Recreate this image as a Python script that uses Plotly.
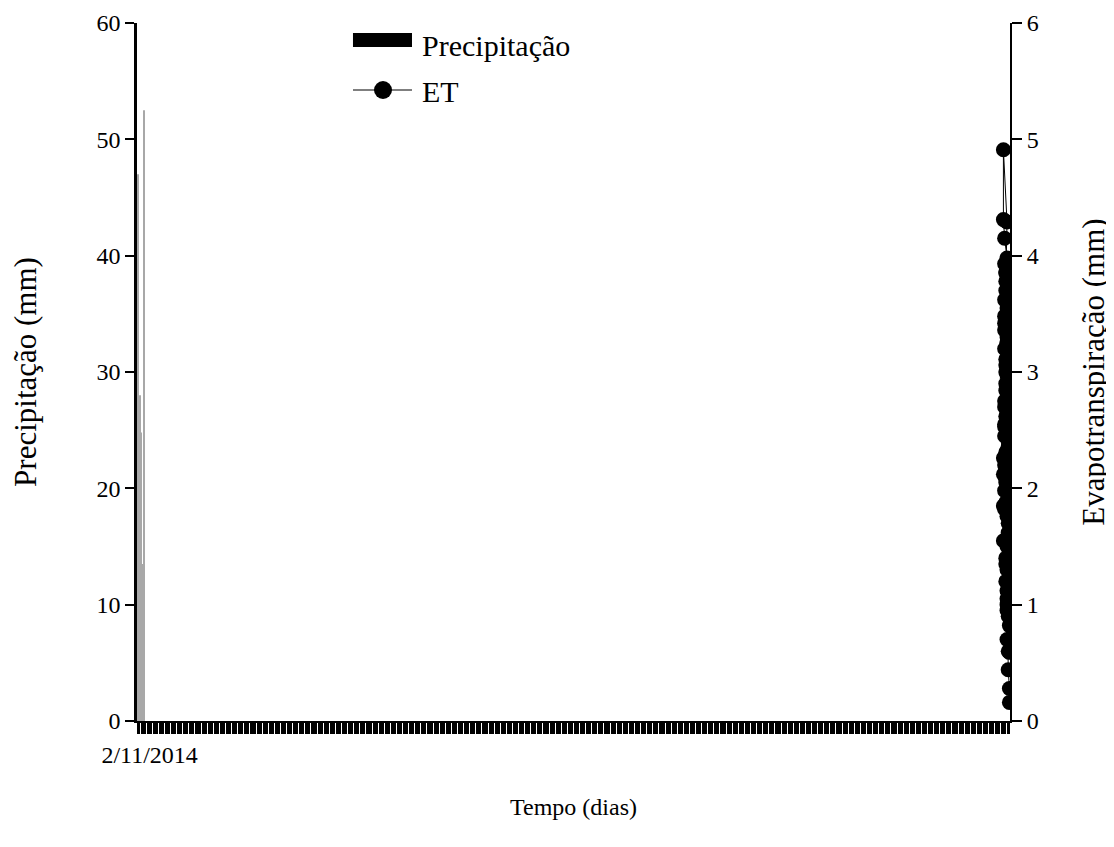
import plotly.graph_objects as go

# ---- data ----
n_days = 730
day_index = list(range(n_days))
first_label = ["2/11/2014"]

precip_days = [0, 1, 2, 3, 4, 5]
precip_values = [47.0, 18.0, 28.0, 24.8, 13.5, 52.5]

et_values = [2.60, 1.40, 3.10, 2.20, 1.00, 2.90, 1.75, 3.40, 2.45, 0.90, 2.05, 3.65,
             1.60, 2.70, 1.30, 3.00, 2.35, 1.85, 3.25, 0.60, 2.15, 2.55, 1.15, 3.85,
             0.70, 1.82, 2.93, 1.20, 3.55, 2.12, 0.82, 2.84, 1.50, 3.20, 2.40, 1.05,
             3.70, 2.26, 1.62, 2.75, 0.95, 3.06, 1.93, 2.58, 1.35, 3.42, 2.03, 1.76,
             3.93, 2.31, 1.28, 2.66, 1.55, 3.15, 2.22, 1.12, 3.62, 2.49, 1.88, 2.97,
             1.42, 3.36, 2.08, 1.70, 3.98, 4.15, 4.31, 4.91, 4.29, 3.78, 2.80, 1.98,
             3.30, 2.17, 0.59, 2.71, 3.48, 2.44, 3.11, 2.88, 3.02, 3.86, 2.53, 2.35,
             3.25, 2.62, 0.44, 0.28, 0.16]
et_days = [727, 726, 728, 725, 727, 726, 729, 727, 725, 728, 726, 727,
           729, 725, 727, 726, 728, 724, 727, 728, 726, 725, 729, 726,
           727, 725, 728, 726, 727, 724, 729, 726, 727, 725, 728, 727,
           726, 724, 728, 725, 727, 726, 729, 727, 726, 725, 728, 727,
           725, 726, 729, 727, 724, 728, 726, 727, 725, 728, 726, 727,
           729, 725, 726, 728, 727, 725, 724, 724, 727, 726, 728, 725,
           727, 726, 729, 728, 725, 727, 726, 728, 727, 726, 725, 728,
           727, 726, 728, 729, 729]

legend_names = ["Precipitação", "ET"]

serif = "Liberation Serif"
tick_size = 24
title_size = 24
ytitle_size = 31
legend_size = 30

fig = go.Figure()
fig.add_trace(go.Bar(x=precip_days, y=precip_values, name=legend_names[0],
                     marker=dict(color="#a8a8a8", line=dict(width=0)),
                     showlegend=False))
fig.add_trace(go.Scatter(x=et_days, y=et_values, name=legend_names[1], yaxis="y2",
                         mode="lines+markers",
                         line=dict(color="black", width=1),
                         marker=dict(color="black", size=15),
                         showlegend=False))

# hand-made legend (wide bar swatch + line/marker swatch) in paper coordinates
sw_x0, sw_x1 = 0.2474, 0.3150
txt_x = 0.3242
fig.add_shape(type="rect", xref="paper", yref="paper",
              x0=sw_x0, x1=sw_x1, y0=0.9656, y1=0.9857,
              fillcolor="black", line=dict(width=0))
fig.add_shape(type="line", xref="paper", yref="paper",
              x0=sw_x0, x1=sw_x1, y0=0.9040, y1=0.9040,
              line=dict(color="black", width=1.2))
fig.add_shape(type="circle", xref="paper", yref="paper",
              x0=0.2818 - 0.0103, x1=0.2818 + 0.0103,
              y0=0.9040 - 0.0129, y1=0.9040 + 0.0129,
              fillcolor="black", line=dict(width=0))
fig.add_annotation(xref="paper", yref="paper", x=txt_x, y=0.9684,
                   xanchor="left", yanchor="middle", showarrow=False,
                   text=legend_names[0], font=dict(family=serif, size=legend_size))
fig.add_annotation(xref="paper", yref="paper", x=txt_x, y=0.9012,
                   xanchor="left", yanchor="middle", showarrow=False,
                   text=legend_names[1], font=dict(family=serif, size=legend_size))

fig.update_layout(
    width=1106, height=839,
    paper_bgcolor="white", plot_bgcolor="white",
    margin=dict(l=129, r=104, t=15, b=126),
    font=dict(family=serif, size=tick_size, color="black"),
    bargap=0.2,
    showlegend=False,
    xaxis=dict(range=[-0.5, n_days - 0.5], tickmode="array",
               tickvals=[day_index[0]], ticktext=first_label,
               ticks="outside", ticklen=11, tickcolor="black", tickwidth=1,
               minor=dict(ticks="outside", dtick=1, tick0=0, ticklen=11,
                          tickcolor="black", tickwidth=1),
               showline=True, linecolor="black", linewidth=2,
               showgrid=False, zeroline=False, automargin=False,
               ticklabelshift=12,
               tickfont=dict(family=serif, size=tick_size),
               title=dict(text="Tempo (dias)", standoff=31,
                          font=dict(family=serif, size=title_size))),
    yaxis=dict(range=[0, 60], dtick=10, ticks="outside", ticklen=9,
               tickcolor="black", tickwidth=2,
               showline=True, linecolor="black", linewidth=2.5,
               showgrid=False, zeroline=False, automargin=False,
               tickfont=dict(family=serif, size=tick_size),
               title=dict(text="Precipitação (mm)", standoff=51,
                          font=dict(family=serif, size=ytitle_size))),
    yaxis2=dict(range=[0, 6], dtick=1, ticks="outside", ticklen=10,
                tickcolor="black", tickwidth=2, overlaying="y", side="right",
                showline=True, linecolor="black", linewidth=2,
                showgrid=False, zeroline=False, automargin=False,
                tickfont=dict(family=serif, size=tick_size),
                title=dict(text="Evapotranspiração (mm)", standoff=45,
                           font=dict(family=serif, size=ytitle_size))),
)

fig.write_html("out.html")
